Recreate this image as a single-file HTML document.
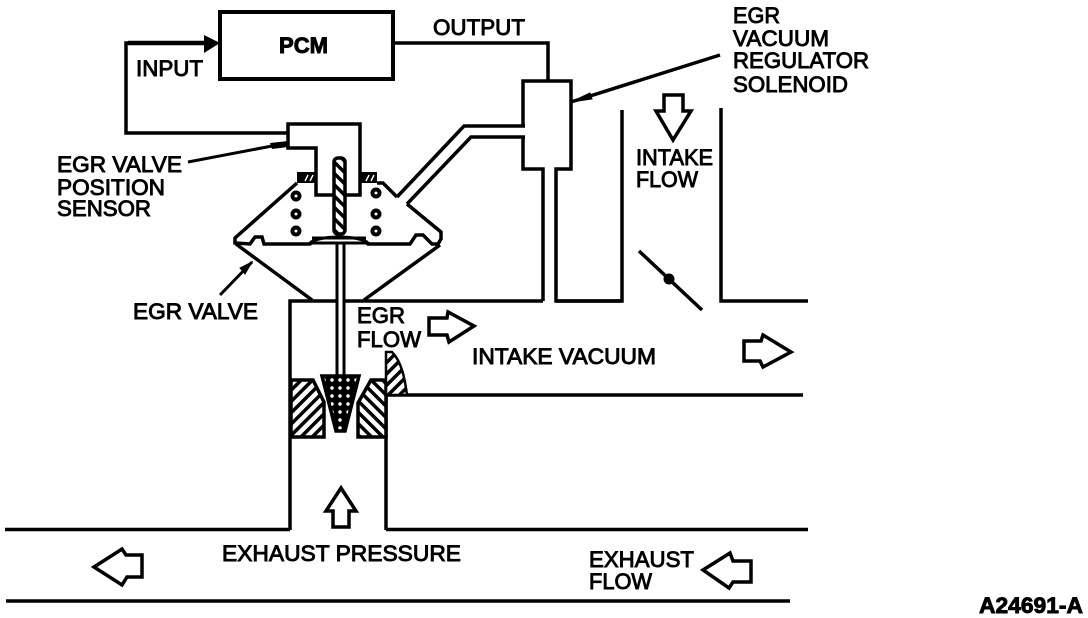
<!DOCTYPE html>
<html><head><meta charset="utf-8"><style>
html,body{margin:0;padding:0;background:#fff}
svg{display:block}
text{font-family:"Liberation Sans",sans-serif;font-size:22px;fill:#000;stroke:#000;stroke-width:.9}
.l{fill:none;stroke:#000;stroke-width:3.5;stroke-linejoin:miter}
</style></head><body>
<svg width="1088" height="618" viewBox="0 0 1088 618" xmlns="http://www.w3.org/2000/svg">
<defs>
<pattern id="h1" width="8" height="8" patternUnits="userSpaceOnUse" patternTransform="rotate(45)"><rect width="8" height="8" fill="#fff"/><rect width="3.5" height="8" fill="#000"/></pattern>
<pattern id="h2" width="8" height="8" patternUnits="userSpaceOnUse" patternTransform="rotate(-45)"><rect width="8" height="8" fill="#fff"/><rect width="3.5" height="8" fill="#000"/></pattern>
<pattern id="x" width="8" height="8" patternUnits="userSpaceOnUse"><rect width="8" height="8" fill="#000"/><circle cx="4" cy="4" r="1.7" fill="#fff"/></pattern>
</defs>
<!-- PCM and signal lines -->
<rect x="220" y="12" width="173" height="67" fill="none" stroke="#000" stroke-width="4"/>
<path class="l" d="M393 43H548V81"/>
<path class="l" d="M213 43H126V133H288"/>
<path d="M204 35L220 43L204 53Z" fill="#000"/>
<path d="M128 43H208" stroke="#000" stroke-width="4.5"/>
<path d="M188 162L288 143" stroke="#000" stroke-width="3"/>
<path d="M270 143L288 141L288 147L272 149Z" fill="#000"/>
<!-- solenoid -->
<path class="l" d="M523 126V81H571V169H556V301H622V110"/>
<path class="l" d="M523 137V169H543V301"/>
<path class="l" d="M525 126H464L397 197"/>
<path class="l" d="M525 137H471L407 204"/>
<path d="M571 102L720 55" stroke="#000" stroke-width="3.5"/>
<path d="M571 102L590 93L592 99Z" fill="#000" stroke="#000"/>
<!-- intake -->
<path class="l" d="M721 108V301H808"/>
<path d="M639 251L702 310" stroke="#000" stroke-width="3.5"/>
<circle cx="669" cy="279" r="5.5" fill="#000"/>
<!-- valve body -->
<path class="l" d="M397 197L383 183H377M297 183L235 238V243L250 244L255 237L262 237L264 244H310C318 236 360 236 368 244H410L416 235H423L432 244H438L441 239V232L407 204"/>
<rect x="297" y="172" width="18" height="11" fill="#000"/>
<rect x="360" y="172" width="17" height="11" fill="#000"/>
<path d="M305 181L308 175M310 181L313 175M366 181L369 175M371 181L374 175" stroke="#fff" stroke-width="1.4"/>
<path d="M310 243C318 235 360 235 368 243Z" fill="#fff" stroke="#000" stroke-width="3"/>
<path d="M312 238H366" stroke="#000" stroke-width="3"/>
<g fill="#fff" stroke="#000" stroke-width="4">
<circle cx="296" cy="196" r="3.5"/><circle cx="296" cy="214" r="3.5"/><circle cx="296" cy="231" r="3.5"/>
<circle cx="376" cy="193" r="3.5"/><circle cx="376" cy="214" r="3.5"/><circle cx="376" cy="231" r="3.5"/>
</g>
<path class="l" d="M236 244L312 300M440 245L364 300"/>
<path d="M220 295L252 262" stroke="#000" stroke-width="3"/>
<path d="M252 262L240 268L245 274Z" fill="#000" stroke="#000"/>
<!-- sensor -->
<path class="l" d="M288 124H360V195H316V148H288Z" style="fill:#fff"/>
<rect x="334" y="158" width="11" height="76" rx="4" fill="url(#h2)" stroke="#000" stroke-width="3.5"/>
<!-- stem -->
<path d="M337 243V376M344 243V376" stroke="#000" stroke-width="3"/>
<!-- duct -->
<path class="l" d="M336 301H290V530M345 301H543M556 301H622"/>
<path class="l" d="M386 395V530M386 395H803"/>
<path class="l" d="M386 380V395"/>
<path d="M5 529.5H290M386 529.5H808M6 601H790" stroke="#000" stroke-width="3.5"/>
<!-- poppet and seats -->
<path d="M322 376H359L345 431H336Z" fill="url(#x)" stroke="#000" stroke-width="3.5"/>
<path d="M291 380H313L324 402V437H291Z" fill="url(#h1)" stroke="#000" stroke-width="3.5"/>
<path d="M386 380H371L358 403V437H386Z" fill="url(#h2)" stroke="#000" stroke-width="3.5"/>
<path d="M386 352H392C402 362 405 380 407 395H386Z" fill="url(#h1)" stroke="#000" stroke-width="2.5"/>
<!-- flow arrows -->
<g fill="#fff" stroke="#000" stroke-width="3.5">
<path d="M429 318H447L448 312L474 326L449 342L447 335H429Z"/>
<path d="M744 341H761L763 335L791 352L763 367L760 361H744Z"/>
<path d="M94 567L122 549L126 555H142V577H127L122 585Z"/>
<path d="M703 570L730 553L733 561H751V582H733L729 588Z"/>
<path d="M664 95H683V111H691L673 140L656 111H664Z"/>
<path d="M341 488L356 511H349V527H333V511H326Z"/>
</g>
<!-- labels -->
<text x="279" y="53" textLength="49" lengthAdjust="spacingAndGlyphs" style="font-weight:bold;font-size:22px">PCM</text>
<text x="136" y="76" textLength="67" lengthAdjust="spacingAndGlyphs">INPUT</text>
<text x="433" y="35" textLength="92" lengthAdjust="spacingAndGlyphs">OUTPUT</text>
<text x="733" y="23" textLength="47" lengthAdjust="spacingAndGlyphs">EGR</text>
<text x="733" y="46" textLength="96" lengthAdjust="spacingAndGlyphs">VACUUM</text>
<text x="733" y="68" textLength="136" lengthAdjust="spacingAndGlyphs">REGULATOR</text>
<text x="733" y="92" textLength="115" lengthAdjust="spacingAndGlyphs">SOLENOID</text>
<text x="57" y="172" textLength="125" lengthAdjust="spacingAndGlyphs">EGR VALVE</text>
<text x="57" y="195" textLength="108" lengthAdjust="spacingAndGlyphs">POSITION</text>
<text x="57" y="216" textLength="94" lengthAdjust="spacingAndGlyphs">SENSOR</text>
<text x="133" y="319" textLength="125" lengthAdjust="spacingAndGlyphs">EGR VALVE</text>
<text x="357" y="323" textLength="48" lengthAdjust="spacingAndGlyphs">EGR</text>
<text x="357" y="347" textLength="64" lengthAdjust="spacingAndGlyphs">FLOW</text>
<text x="472" y="364" textLength="184" lengthAdjust="spacingAndGlyphs">INTAKE VACUUM</text>
<text x="636" y="165" textLength="77" lengthAdjust="spacingAndGlyphs">INTAKE</text>
<text x="636" y="187" textLength="62" lengthAdjust="spacingAndGlyphs">FLOW</text>
<text x="222" y="561" textLength="239" lengthAdjust="spacingAndGlyphs">EXHAUST PRESSURE</text>
<text x="589" y="567" textLength="105" lengthAdjust="spacingAndGlyphs">EXHAUST</text>
<text x="589" y="589" textLength="63" lengthAdjust="spacingAndGlyphs">FLOW</text>
<text x="979" y="613" textLength="104" lengthAdjust="spacingAndGlyphs" style="font-weight:bold;font-size:22px">A24691-A</text>
</svg>
</body></html>
